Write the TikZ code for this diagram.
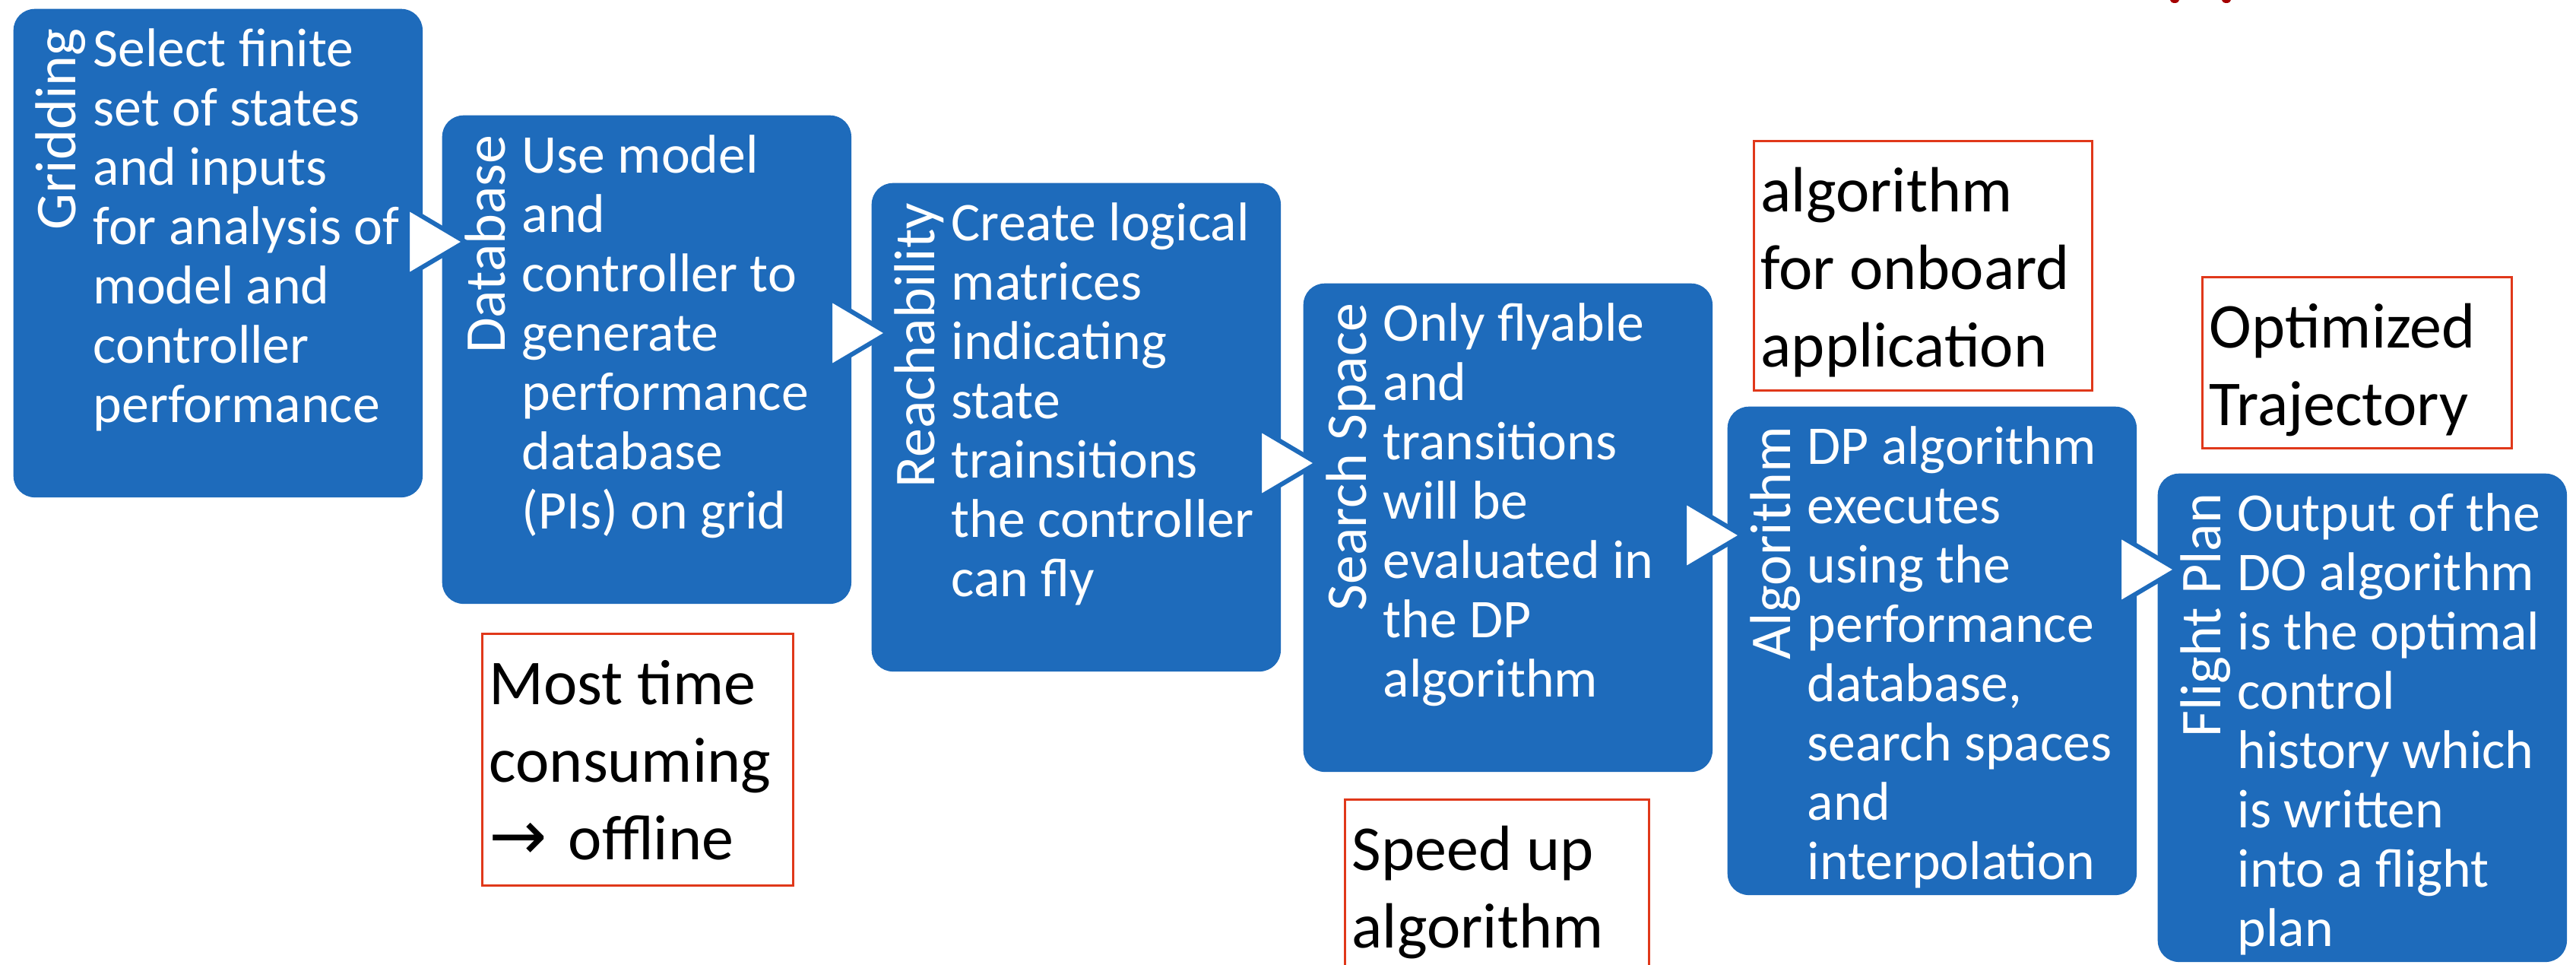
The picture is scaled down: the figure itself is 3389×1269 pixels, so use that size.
\documentclass[tikz,border=0pt]{standalone}
\usepackage{fontspec}
\setmainfont{Carlito}
\newfontfamily\arrowfont{DejaVu Sans}
\usepackage{tikz}

\definecolor{stageblue}{RGB}{30,107,187}
\definecolor{noteborder}{RGB}{224,56,26}
\definecolor{titlered}{RGB}{165,0,0}

\tikzset{
	stage/.style={fill=stageblue, rounded corners=0.28cm, minimum width=5.38cm, minimum height=6.42cm, inner sep=0pt, anchor=north west},
	stagetext/.style={text=white, align=left, anchor=north west, inner sep=0pt, font=\fontsize{20.4}{22.2}\selectfont},
	stagelabel/.style={text=white, rotate=90, anchor=base east, inner sep=0pt, font=\fontsize{21.6}{26}\selectfont},
	note/.style={draw=noteborder, line width=0.03cm, inner sep=0pt, anchor=north west},
	notetext/.style={align=left, anchor=north west, inner sep=0pt, font=\fontsize{23.9}{29}\selectfont},
	flowtip/.style={fill=white, draw=stageblue, line width=0.06cm, line join=miter}
}

\begin{document}
\begin{tikzpicture}[x=0.01cm, y=-0.01cm]
	\useasboundingbox (0,0) rectangle (3389,1269);
	\clip (0,0) rectangle (3389,1269);

	% stages
	\node[stage]	(B1)	at	(17,11)		{};
	\node[stage]	(B2)	at	(581,151)	{};
	\node[stage]	(B3)	at	(1146,240)	{};
	\node[stage]	(B4)	at	(1714,372)	{};
	\node[stage]	(B5)	at	(2272,534)	{};
	\node[stage]	(B6)	at	(2838,622)	{};

	\node[stagelabel]	(L1)	at	([shift={(83,26)}]B1.north west)	{Gridding};
	\node[stagelabel]	(L2)	at	([shift={(83,26)}]B2.north west)	{Database};
	\node[stagelabel]	(L3)	at	([shift={(83,26)}]B3.north west)	{Reachability};
	\node[stagelabel]	(L4)	at	([shift={(83,26)}]B4.north west)	{Search Space};
	\node[stagelabel]	(L5)	at	([shift={(83,26)}]B5.north west)	{Algorithm};
	\node[stagelabel]	(L6)	at	([shift={(83,26)}]B6.north west)	{Flight Plan};

	\node[stagetext]	(T1)	at	([shift={(105,21)}]B1.north west)	{\strut Select finite\\set of states\\and inputs\\for analysis of\\model and\\controller\\performance};
	\node[stagetext]	(T2)	at	([shift={(105,21)}]B2.north west)	{\strut Use model\\and\\controller to\\generate\\performance\\database\\(PIs) on grid};
	\node[stagetext]	(T3)	at	([shift={(105,21)}]B3.north west)	{\strut Create logical\\matrices\\indicating\\state\\trainsitions\\the controller\\can fly};
	\node[stagetext]	(T4)	at	([shift={(105,21)}]B4.north west)	{\strut Only flyable\\and\\transitions\\will be\\evaluated in\\the DP\\algorithm};
	\node[stagetext]	(T5)	at	([shift={(105,21)}]B5.north west)	{\strut DP algorithm\\executes\\using the\\performance\\database,\\search spaces\\and\\interpolation};
	\node[stagetext]	(T6)	at	([shift={(105,21)}]B6.north west)	{\strut Output of the\\DO algorithm\\is the optimal\\control\\history which\\is written\\into a flight\\plan};

	% arrows between stages
	\coordinate	(A1)	at	(612,318);
	\coordinate	(A2)	at	(1168,438);
	\coordinate	(A3)	at	(1733,609);
	\coordinate	(A4)	at	(2292,704);
	\coordinate	(A5)	at	(2864,749);
	\filldraw[flowtip]	(A1) -- ++(-76,-45) -- ++(0,90) -- cycle;
	\filldraw[flowtip]	(A2) -- ++(-76,-45) -- ++(0,90) -- cycle;
	\filldraw[flowtip]	(A3) -- ++(-76,-45) -- ++(0,90) -- cycle;
	\filldraw[flowtip]	(A4) -- ++(-76,-45) -- ++(0,90) -- cycle;
	\filldraw[flowtip]	(A5) -- ++(-76,-45) -- ++(0,90) -- cycle;

	% remarks
	\node[note, minimum width=4.09cm, minimum height=3.31cm]	(R1)	at	(633,832)	{};
	\node[note, minimum width=4.00cm, minimum height=2.60cm]	(R2)	at	(1768,1050)	{};
	\node[note, minimum width=4.45cm, minimum height=3.28cm]	(R3)	at	(2306,184)	{};
	\node[note, minimum width=4.07cm, minimum height=2.25cm]	(R4)	at	(2896,363)	{};

	\node[notetext]	(N1)	at	([shift={(10,22)}]R1.north west)	{\strut Most time\\consuming\\{\arrowfont\fontsize{26}{29}\selectfont →}\hspace{0.1em} offline};
	\node[notetext]	(N2)	at	([shift={(10,22)}]R2.north west)	{\strut Speed up\\algorithm};
	\node[notetext]	(N3)	at	([shift={(10,22)}]R3.north west)	{\strut algorithm\\for onboard\\application};
	\node[notetext]	(N4)	at	([shift={(10,22)}]R4.north west)	{\strut Optimized\\Trajectory};

	% cut-off title
	\fill[titlered]	(2861,0) ellipse (6 and 4);
	\fill[titlered]	(2929,0) ellipse (6 and 4);
\end{tikzpicture}
\end{document}
